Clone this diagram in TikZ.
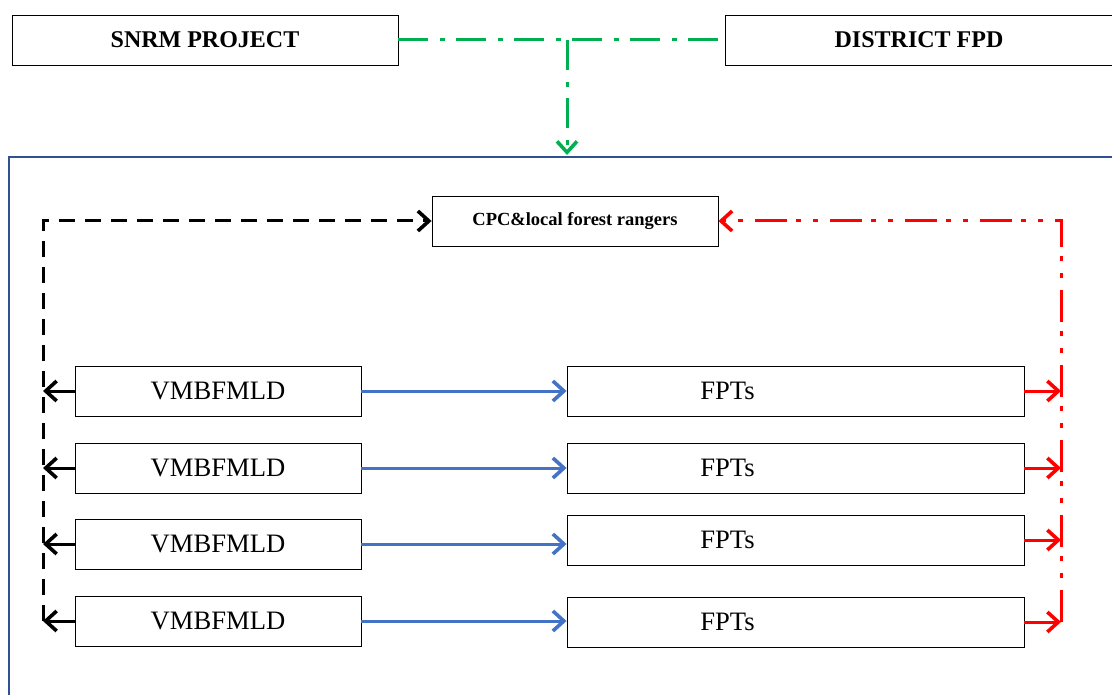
\documentclass[tikz,border=0pt]{standalone}
\usepackage{fontspec}
\setmainfont{Liberation Serif}
\usetikzlibrary{arrows.meta, positioning}

\definecolor{linkgreen}{RGB}{0,176,80}
\definecolor{linkblue}{RGB}{68,114,196}
\definecolor{framenavy}{RGB}{47,82,143}

\tikzset{
	box/.style={draw, line width=0.9pt, minimum height=50pt, inner sep=0pt},
	barb/.style={-{Straight Barb[length=11pt, width=20pt, line width=3.6pt]}},
	greenlink/.style={linkgreen, line width=3pt, dash pattern=on 30pt off 12pt on 5pt off 11pt},
	redlink/.style={red, line width=3pt, dash pattern=on 32pt off 12pt on 5pt off 12pt on 5pt off 9pt},
	blacklink/.style={black, line width=3pt, dash pattern=on 16pt off 10pt},
	bluelink/.style={linkblue, line width=3pt},
	rowfont/.style={font=\fontsize{26.6}{30}\selectfont}
}

% one row: village body on the left, forest patrol team on the right
\newcommand{\patrolrow}[3]{
	\node[box, minimum width=286pt, rowfont] (vm#1) at (218,#2) {VMBFMLD};
	\node[box, minimum width=457pt, label={[rowfont, xshift=-68pt]center:FPTs}] (fp#1) at (795.5,#3) {};
	\draw[bluelink, barb] (vm#1.east) -- (vm#1.east -| fp#1.west);
	\draw[black, line width=3pt, barb] (vm#1.west) -- (vm#1.west -| lx);
	\draw[red, line width=3pt, barb] (fp#1.east) -- (fp#1.east -| rx);
}

\begin{document}
\begin{tikzpicture}[x=1pt, y=-1pt]
	\useasboundingbox (0,0) rectangle (1112,695);

	% top level
	\node[box, minimum width=386pt, font=\fontsize{24}{28}\selectfont\bfseries] (snrm) at (205,40) {SNRM PROJECT};
	\node[box, minimum width=388pt, font=\fontsize{24}{28}\selectfont\bfseries] (fpd) at (919,40) {DISTRICT FPD};
	\coordinate (gj) at (567,40);
	\coordinate (ftop) at (567,155);
	\draw[greenlink] (snrm.east) -- (fpd.west);
	\draw[greenlink, barb] (gj) -- (ftop);

	% frame
	\draw[framenavy, line width=1.3pt] (1112,157) -| (9,695);

	\node[box, minimum width=286pt, font=\fontsize{18.5}{21}\selectfont\bfseries] (cpc) at (575,221) {CPC\&local forest rangers};

	\coordinate (lx) at (43,0);
	\coordinate (rx) at (1061,0);

	% rows
	\patrolrow{1}{391}{391}
	\patrolrow{2}{468}{468}
	\patrolrow{3}{544}{540}
	\patrolrow{4}{621}{622}

	% feedback lines
	\draw[blacklink, barb] (vm4.west -| lx) |- (cpc.west);
	\draw[redlink, barb] (fp4.east -| rx) |- (cpc.east);
\end{tikzpicture}
\end{document}
